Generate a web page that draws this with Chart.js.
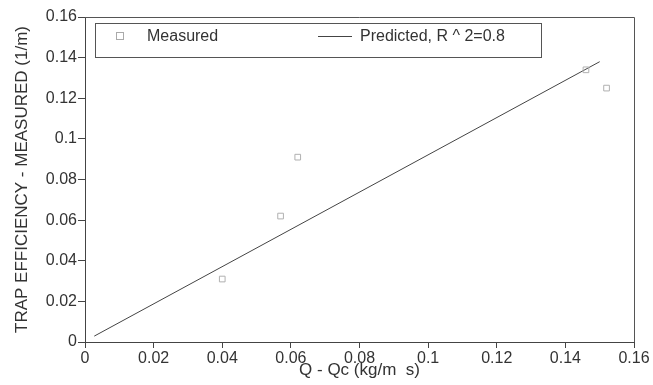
<!DOCTYPE html>
<html>
<head>
<meta charset="utf-8">
<script src="https://cdn.jsdelivr.net/npm/chart.js@4.4.1/dist/chart.umd.min.js"></script>
<style>
  html, body { margin: 0; padding: 0; background: #ffffff; }
  #wrap { width: 653px; height: 385px; position: relative; }
</style>
</head>
<body>
<div id="wrap"><canvas id="c" width="653" height="385"></canvas></div>
<script>
// Measured trap efficiency against excess sediment discharge
const measuredQ   = [0.040, 0.057, 0.062, 0.146, 0.152];
const measuredEff = [0.031, 0.062, 0.091, 0.134, 0.125];

// Fitted prediction line end points
const predictedQ   = [0.0027, 0.150];
const predictedEff = [0.0029, 0.138];

const xTicks = [0, 0.02, 0.04, 0.06, 0.08, 0.1, 0.12, 0.14, 0.16];
const yTicks = [0, 0.02, 0.04, 0.06, 0.08, 0.1, 0.12, 0.14, 0.16];

const seriesNames = ['Measured', 'Predicted, R ^ 2=0.8'];
const xTitle = 'Q - Qc (kg/m  s)';
const yTitle = 'TRAP EFFICIENCY - MEASURED (1/m)';

const FONT = "'Liberation Sans', Arial, sans-serif";
const INK = '#333333';

const toPoints = (xs, ys) => xs.map((x, i) => ({ x: x, y: ys[i] }));

// Boxed legend inside the plot area plus the closing frame lines
const framePlugin = {
  id: 'frameAndLegend',
  afterDraw(chart) {
    const ctx = chart.ctx;
    const a = chart.chartArea;
    ctx.save();
    // top and right frame
    ctx.strokeStyle = '#555';
    ctx.lineWidth = 1;
    ctx.beginPath();
    ctx.moveTo(a.left, a.top + 0.5);
    ctx.lineTo(a.right + 0.5, a.top + 0.5);
    ctx.lineTo(a.right + 0.5, a.bottom);
    ctx.stroke();

    // legend box
    const bx = a.left + 10, by = a.top + 6, bw = 446, bh = 34;
    ctx.strokeStyle = '#555';
    ctx.strokeRect(bx + 0.5, by + 0.5, bw, bh);
    const cy = by + 13;
    const ds = chart.data.datasets;

    // measured marker
    ctx.strokeStyle = '#aaa';
    ctx.strokeRect(bx + 21.5, cy - 3.5, 7, 7);
    ctx.fillStyle = INK;
    ctx.font = '16px ' + FONT;
    ctx.textBaseline = 'middle';
    ctx.textAlign = 'left';
    ctx.fillText(ds[0].label, bx + 52, cy + 1);

    // predicted line sample
    ctx.strokeStyle = '#444';
    ctx.beginPath();
    ctx.moveTo(bx + 223, cy + 0.5);
    ctx.lineTo(bx + 257, cy + 0.5);
    ctx.stroke();
    ctx.fillText(ds[1].label, bx + 265, cy + 1);
    ctx.restore();
  }
};

new Chart(document.getElementById('c'), {
  type: 'scatter',
  data: {
    datasets: [
      {
        label: seriesNames[0],
        data: toPoints(measuredQ, measuredEff),
        pointStyle: 'rect',
        pointRadius: 4,
        pointBorderWidth: 1,
        pointBorderColor: '#b0b0b0',
        pointBackgroundColor: 'rgba(0,0,0,0)',
        showLine: false
      },
      {
        label: seriesNames[1],
        data: toPoints(predictedQ, predictedEff),
        showLine: true,
        borderColor: '#444',
        borderWidth: 1,
        pointRadius: 0,
        fill: false
      }
    ]
  },
  options: {
    responsive: false,
    animation: false,
    devicePixelRatio: 1,
    layout: { padding: { left: 0, top: 17, right: 19, bottom: 0 } },
    plugins: {
      legend: { display: false },
      tooltip: { enabled: false }
    },
    scales: {
      x: {
        type: 'linear',
        min: 0,
        max: 0.16,
        afterBuildTicks(scale) { scale.ticks = xTicks.map(v => ({ value: v })); },
        afterFit(scale) { scale.height = 43; },
        grid: {
          drawOnChartArea: false,
          drawTicks: true,
          tickLength: 6,
          color: '#444'
        },
        border: { display: true, color: '#444', width: 1 },
        ticks: {
          color: INK,
          padding: 1,
          maxRotation: 0,
          font: { family: FONT, size: 16 },
          callback: v => String(Math.round(v * 100) / 100)
        },
        title: {
          display: true,
          text: xTitle,
          color: INK,
          font: { family: FONT, size: 17 },
          padding: { top: 0, bottom: 4 }
        }
      },
      y: {
        type: 'linear',
        min: 0,
        max: 0.16,
        afterBuildTicks(scale) { scale.ticks = yTicks.map(v => ({ value: v })); },
        afterFit(scale) { scale.width = 85; },
        grid: {
          drawOnChartArea: false,
          drawTicks: true,
          tickLength: 7,
          color: '#444'
        },
        border: { display: true, color: '#444', width: 1 },
        ticks: {
          color: INK,
          padding: 1,
          font: { family: FONT, size: 16 },
          callback: v => String(Math.round(v * 100) / 100)
        },
        title: {
          display: true,
          text: yTitle,
          color: INK,
          font: { family: FONT, size: 17 },
          padding: { top: 12, bottom: 0 }
        }
      }
    }
  },
  plugins: [framePlugin]
});
</script>
</body>
</html>
